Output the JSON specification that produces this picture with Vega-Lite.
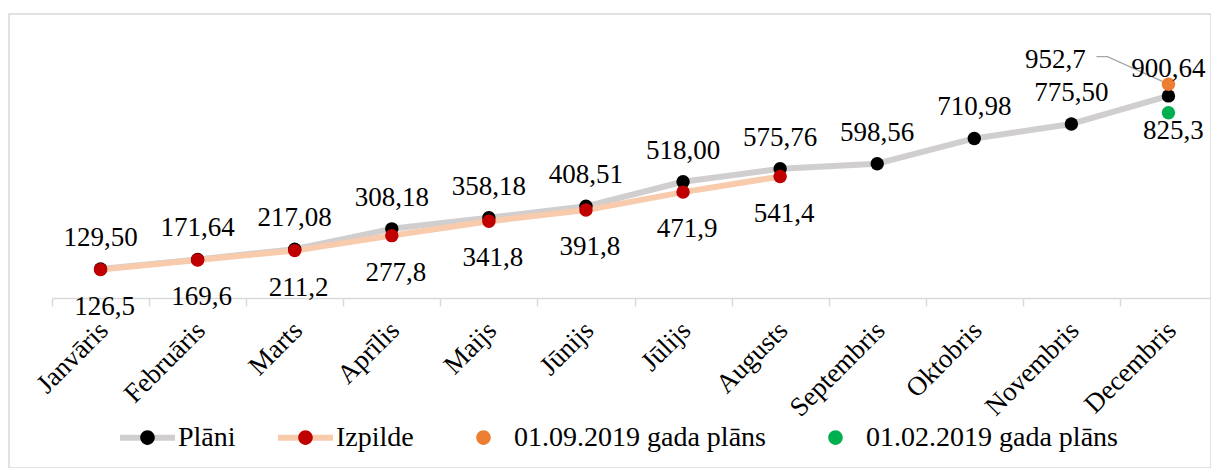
{
  "$schema": "https://vega.github.io/schema/vega-lite/v6.json",
  "width": 1202,
  "height": 454,
  "autosize": {"type": "none"},
  "padding": {"left": 9, "top": 14, "right": 0, "bottom": 0},
  "background": "white",
  "config": {
    "view": {"stroke": "#d9d9d9", "strokeWidth": 1.5},
    "locale": {"number": {"decimal": ",", "thousands": " ", "grouping": [3], "currency": ["", " €"]}},
    "font": "Liberation Serif",
    "text": {"font": "Liberation Serif", "fontSize": 27, "color": "black"}
  },
  "data": {
    "values": [
      {"month": "Janvāris", "series": "Plāni", "value": 129.50},
      {"month": "Februāris", "series": "Plāni", "value": 171.64},
      {"month": "Marts", "series": "Plāni", "value": 217.08},
      {"month": "Aprīlis", "series": "Plāni", "value": 308.18},
      {"month": "Maijs", "series": "Plāni", "value": 358.18},
      {"month": "Jūnijs", "series": "Plāni", "value": 408.51},
      {"month": "Jūlijs", "series": "Plāni", "value": 518.00},
      {"month": "Augusts", "series": "Plāni", "value": 575.76},
      {"month": "Septembris", "series": "Plāni", "value": 598.56},
      {"month": "Oktobris", "series": "Plāni", "value": 710.98},
      {"month": "Novembris", "series": "Plāni", "value": 775.50},
      {"month": "Decembris", "series": "Plāni", "value": 900.64},
      {"month": "Janvāris", "series": "Izpilde", "value": 126.5},
      {"month": "Februāris", "series": "Izpilde", "value": 169.6},
      {"month": "Marts", "series": "Izpilde", "value": 211.2},
      {"month": "Aprīlis", "series": "Izpilde", "value": 277.8},
      {"month": "Maijs", "series": "Izpilde", "value": 341.8},
      {"month": "Jūnijs", "series": "Izpilde", "value": 391.8},
      {"month": "Jūlijs", "series": "Izpilde", "value": 471.9},
      {"month": "Augusts", "series": "Izpilde", "value": 541.4},
      {"month": "Decembris", "series": "01.09.2019 gada plāns", "value": 952.7},
      {"month": "Decembris", "series": "01.02.2019 gada plāns", "value": 825.3}
    ]
  },
  "encoding": {
    "x": {
      "field": "month",
      "type": "nominal",
      "sort": ["Janvāris", "Februāris", "Marts", "Aprīlis", "Maijs", "Jūnijs", "Jūlijs", "Augusts", "Septembris", "Oktobris", "Novembris", "Decembris"],
      "scale": {
        "domain": ["Janvāris", "Februāris", "Marts", "Aprīlis", "Maijs", "Jūnijs", "Jūlijs", "Augusts", "Septembris", "Oktobris", "Novembris", "Decembris"],
        "range": [43, 1208],
        "paddingInner": 0,
        "paddingOuter": 0
      },
      "axis": {
        "title": null,
        "orient": "bottom",
        "offset": -170,
        "grid": false,
        "domainColor": "#d9d9d9",
        "domainWidth": 1.5,
        "tickColor": "#d9d9d9",
        "tickWidth": 1.5,
        "tickSize": 8,
        "tickBand": "extent",
        "labelAngle": -45,
        "labelAlign": "right",
        "labelBaseline": "middle",
        "labelFont": "Liberation Serif",
        "labelFontSize": 27,
        "labelColor": "black",
        "labelPadding": 20,
        "labelOffset": 3,
        "labelOverlap": false,
        "labelLimit": 0
      }
    },
    "y": {
      "field": "value",
      "type": "quantitative",
      "scale": {"domain": [-757.6, 1265.6], "nice": false, "zero": false},
      "axis": null
    }
  },
  "layer": [
    {
      "transform": [{"filter": "datum.series == 'Plāni'"}],
      "mark": {"type": "line", "strokeWidth": 6, "strokeJoin": "round", "strokeCap": "round"},
      "encoding": {
        "color": {
          "field": "series", "type": "nominal",
          "scale": {"domain": ["Plāni", "Izpilde"], "range": ["#d0cece", "#f8cbad"]},
          "legend": {
            "title": null, "orient": "none", "legendX": 108, "legendY": 393, "direction": "horizontal",
            "symbolType": "M-1,0L1,0", "symbolSize": 3025, "symbolStrokeWidth": 6,
            "labelFont": "Liberation Serif", "labelFontSize": 28, "labelOpacity": 0, "labelOffset": 0,
            "labelLimit": 0, "columnPadding": 30, "padding": 0
          }
        }
      }
    },
    {
      "transform": [{"filter": "datum.series == 'Izpilde'"}],
      "mark": {"type": "line", "strokeWidth": 6, "strokeJoin": "round", "strokeCap": "round"},
      "encoding": {
        "color": {
          "field": "series", "type": "nominal",
          "scale": {"domain": ["Plāni", "Izpilde"], "range": ["#d0cece", "#f8cbad"]}
        }
      }
    },
    {
      "transform": [{"filter": "datum.series == '01.09.2019 gada plāns'"}],
      "mark": {"type": "point", "shape": "M-0.72,-0.276L-0.61,-0.276L0,0", "size": 40000, "filled": false, "stroke": "#a6a6a6", "strokeWidth": 1.3, "opacity": 1},
      "encoding": {}
    },
    {
      "mark": {"type": "circle", "size": 180, "opacity": 1},
      "encoding": {
        "fill": {
          "field": "series", "type": "nominal",
          "scale": {"domain": ["Plāni", "Izpilde", "01.09.2019 gada plāns", "01.02.2019 gada plāns"], "range": ["#000000", "#c00000", "#ed7d31", "#00b050"]},
          "legend": {
            "title": null, "orient": "none", "legendX": 108, "legendY": 393, "direction": "horizontal",
            "symbolType": "M-1,0M1,0M-0.265,0A0.265,0.265,0,1,0,0.265,0A0.265,0.265,0,1,0,-0.265,0Z",
            "symbolSize": 3025, "symbolStrokeWidth": 6, "symbolStrokeColor": "transparent", "symbolOpacity": 1,
            "labelFont": "Liberation Serif", "labelFontSize": 28, "labelColor": "black", "labelOffset": 0,
            "labelLimit": 0, "columnPadding": 30, "padding": 0, "zindex": 1
          }
        }
      }
    },
    {
      "transform": [{"filter": "datum.series == 'Plāni' && datum.month != 'Decembris'"}],
      "mark": {"type": "text", "align": "center", "baseline": "alphabetic", "dy": -23},
      "encoding": {"text": {"field": "value", "type": "quantitative", "format": ".2f"}}
    },
    {
      "transform": [{"filter": "datum.series == 'Plāni' && datum.month == 'Decembris'"}],
      "mark": {"type": "text", "align": "center", "baseline": "alphabetic", "dy": -19},
      "encoding": {"text": {"field": "value", "type": "quantitative", "format": ".2f"}}
    },
    {
      "transform": [{"filter": "datum.series == 'Izpilde'"}],
      "mark": {"type": "text", "align": "center", "baseline": "alphabetic", "dx": 4, "dy": 45},
      "encoding": {"text": {"field": "value", "type": "quantitative", "format": ".1f"}}
    },
    {
      "transform": [{"filter": "datum.series == '01.09.2019 gada plāns'"}],
      "mark": {"type": "text", "align": "center", "baseline": "alphabetic", "dx": -113, "dy": -16},
      "encoding": {"text": {"field": "value", "type": "quantitative", "format": ".1f"}}
    },
    {
      "transform": [{"filter": "datum.series == '01.02.2019 gada plāns'"}],
      "mark": {"type": "text", "align": "center", "baseline": "alphabetic", "dx": 5, "dy": 26},
      "encoding": {"text": {"field": "value", "type": "quantitative", "format": ".1f"}}
    }
  ]
}
